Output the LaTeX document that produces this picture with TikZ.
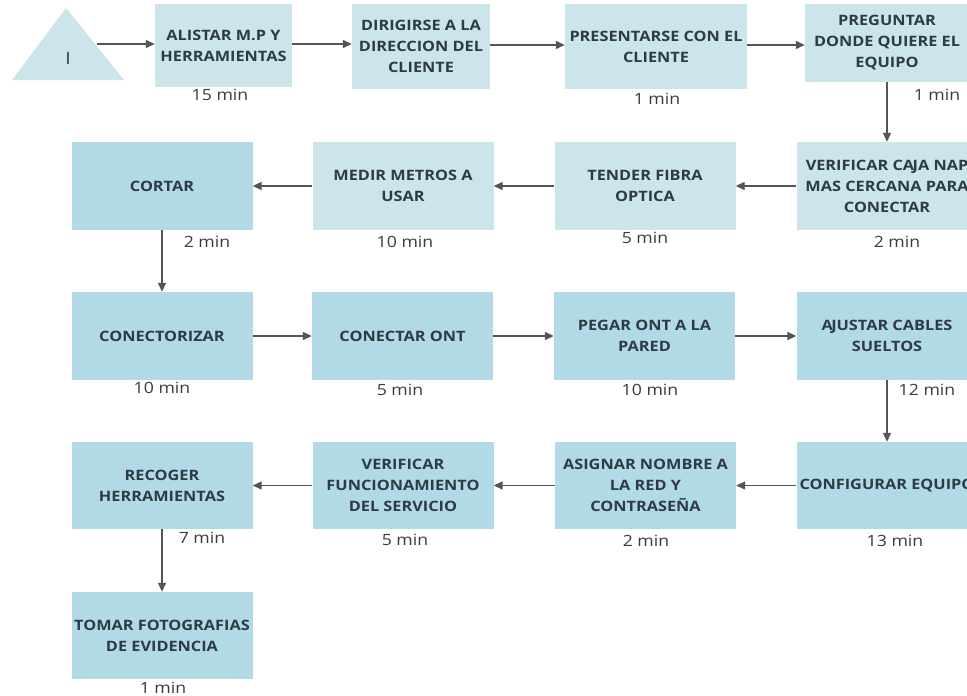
\documentclass[tikz,border=0pt]{standalone}
\usepackage{fontspec}
\setmainfont{Open Sans}[FakeStretch=1.14]
\usetikzlibrary{arrows.meta}
\definecolor{boxlight}{HTML}{CCE5EA}
\definecolor{boxdark}{HTML}{B1D9E6}
\definecolor{boxtext}{HTML}{2E3B44}
\definecolor{linegray}{HTML}{555555}
\definecolor{timetext}{HTML}{3A3A3A}
% tighter pair where the font leaves a wide gap
\newcommand{\AJ}{A\kern-1.6ptJ}
\begin{document}
\begin{tikzpicture}[x=1pt,y=-1pt,
  stepbox/.style={rectangle, inner sep=2pt, align=center, text=boxtext,
    font=\bfseries\fontsize{14.3}{21}\selectfont},
  lightbox/.style={stepbox, fill=boxlight},
  darkbox/.style={stepbox, fill=boxdark},
  rowbox/.style={minimum width=181, minimum height=88},
  timelabel/.style={text=timetext, font=\fontsize{15.5}{17}\selectfont, inner sep=0pt},
  flow/.style={draw=linegray, line width=1.3pt,
    -{Triangle[length=9pt,width=8pt]}}]
\useasboundingbox (0,0) rectangle (967,696);
\clip (0,0) rectangle (967,696);
\fill[white] (0,0) rectangle (967,696);

% start symbol
\fill[boxlight] (12,80) -- (124,80) -- (66,8) -- cycle;
\node[text=boxtext, font=\fontsize{17}{18}\selectfont, inner sep=0pt] (start) at (68,58) {I};
\coordinate (startout) at (97,44);

% first row
\node[lightbox, minimum width=137, minimum height=83] (b1) at (223.5,45.5) {ALISTAR M.P Y\\HERRAMIENTAS};
\node[lightbox, minimum width=138, minimum height=85] (b2) at (421,46.5) {DIRIGIRSE A LA\\DIRECCION DEL\\CLIENTE};
\node[lightbox, minimum width=182, minimum height=85] (b3) at (656,46.5) {PRESENTARSE CON EL\\CLIENTE};
\node[lightbox, minimum width=164, minimum height=78] (b4) at (887,43) {PREGUNTAR\\DONDE QUIERE EL\\EQUIPO};

% second row
\node[lightbox, rowbox] (b5) at (887,186) {VERIFICAR C\AJ A NAP\\MAS CERCANA PARA\\CONECTAR};
\node[lightbox, rowbox] (b6) at (645,186) {TENDER FIBRA\\OPTICA};
\node[lightbox, rowbox] (b7) at (403,186) {MEDIR METROS A\\USAR};
\node[darkbox, rowbox] (b8) at (162,186) {CORTAR};

% third row
\node[darkbox, rowbox] (b9) at (162,336) {CONECTORIZAR};
\node[darkbox, rowbox] (b10) at (402.5,336) {CONECTAR ONT};
\node[darkbox, rowbox] (b11) at (644.5,336) {PEGAR ONT A LA\\PARED};
\node[darkbox, rowbox] (b12) at (887,336) {\AJ USTAR CABLES\\SUELTOS};

% fourth row
\node[darkbox, rowbox, minimum height=87] (b13) at (887,485.5) {CONFIGURAR EQUIPO};
\node[darkbox, rowbox, minimum height=87] (b14) at (645.5,485.5) {ASIGNAR NOMBRE A\\LA RED Y\\CONTRASEÑA};
\node[darkbox, rowbox, minimum height=87] (b15) at (403,485.5) {VERIFICAR\\FUNCIONAMIENTO\\DEL SERVICIO};
\node[darkbox, rowbox, minimum height=87] (b16) at (162,485.5) {RECOGER\\HERRAMIENTAS};

% last step
\node[darkbox, rowbox, minimum height=87] (b17) at (162,635.5) {TOMAR FOTOGRAFIAS\\DE EVIDENCIA};

% durations
\node[timelabel] (t1) at (220,95) {15 min};
\node[timelabel] (t3) at (657,99) {1 min};
\node[timelabel] (t4) at (937,95) {1 min};
\node[timelabel] (t5) at (897,242) {2 min};
\node[timelabel] (t6) at (645,238) {5 min};
\node[timelabel] (t7) at (405,242) {10 min};
\node[timelabel] (t8) at (207,242) {2 min};
\node[timelabel] (t9) at (162,388) {10 min};
\node[timelabel] (t10) at (400,390) {5 min};
\node[timelabel] (t11) at (650,390) {10 min};
\node[timelabel] (t12) at (927,390) {12 min};
\node[timelabel] (t13) at (895,541) {13 min};
\node[timelabel] (t14) at (646,541) {2 min};
\node[timelabel] (t15) at (405,540) {5 min};
\node[timelabel] (t16) at (202,538) {7 min};
\node[timelabel] (t17) at (163,688) {1 min};

% connectors
\draw[flow] (startout) -- (startout -| b1.west);
\draw[flow] (b1.east |- 0,44) -- (b2.west |- 0,44);
\draw[flow] (b2.east |- 0,45) -- (b3.west |- 0,45);
\draw[flow] (b3.east |- 0,45) -- (b4.west |- 0,45);
\draw[flow] (b4) -- (b5);
\draw[flow] (b5) -- (b6);
\draw[flow] (b6) -- (b7);
\draw[flow] (b7) -- (b8);
\draw[flow] (b8) -- (b9);
\draw[flow] (b9) -- (b10);
\draw[flow] (b10) -- (b11);
\draw[flow] (b11) -- (b12);
\draw[flow] (b12) -- (b13);
\draw[flow] (b13) -- (b14);
\draw[flow] (b14) -- (b15);
\draw[flow] (b15) -- (b16);
\draw[flow] (b16) -- (b17);
\end{tikzpicture}
\end{document}
